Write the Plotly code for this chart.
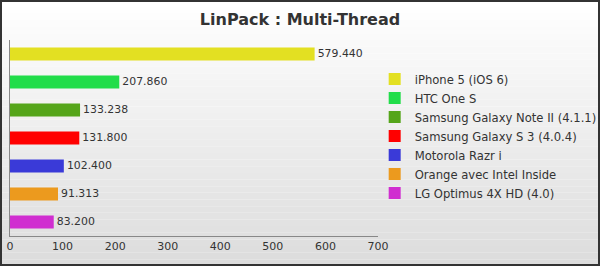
import plotly.graph_objects as go

devices = ["iPhone 5 (iOS 6)", "HTC One S", "Samsung Galaxy Note II (4.1.1)",
           "Samsung Galaxy S 3 (4.0.4)", "Motorola Razr i", "Orange avec Intel Inside",
           "LG Optimus 4X HD (4.0)"]
scores = [579.440, 207.860, 133.238, 131.800, 102.400, 91.313, 83.200]
colors = ["#e3e022", "#22dd4a", "#55a51a", "#ff0000", "#3a3ad8", "#ec9a1e", "#d02ed0"]
x_ticks = [0, 100, 200, 300, 400, 500, 600, 700]

W, H = 600, 266
L, R, T, B = 10, 222, 40, 30
pw, ph = W - L - R, H - T - B

fig = go.Figure()
for d, s, c in zip(devices, scores, colors):
    fig.add_trace(go.Bar(
        x=[s], y=[d], orientation="h", name=d, marker=dict(color=c, line=dict(width=0)),
        width=0.46, text=[f"{s:.3f}"], textposition="outside", cliponaxis=False,
        textfont=dict(color="#333333", size=11), hoverinfo="skip"))

# background gradient
shapes = []
n = 40
for i in range(n):
    y0 = 1 - i / n
    y1 = 1 - (i + 1) / n
    v = int(round(255 - (255 - 220) * (i + 0.5) / n))
    shapes.append(dict(type="rect", xref="paper", yref="paper",
                       x0=-L / pw, x1=(W - L) / pw,
                       y0=(y0 * H - B) / ph, y1=(y1 * H - B) / ph,
                       fillcolor=f"rgb({v},{v},{v})", line=dict(width=0), layer="below"))
shapes.append(dict(type="rect", xref="paper", yref="paper",
                   x0=(-L + 1) / pw, x1=(W - L - 1) / pw,
                   y0=(-B + 1) / ph, y1=(H - B - 1) / ph,
                   line=dict(color="#333333", width=2), fillcolor="rgba(0,0,0,0)"))

fig.update_layout(
    width=W, height=H, margin=dict(l=L, r=R, t=T, b=B, autoexpand=False),
    paper_bgcolor="rgba(0,0,0,0)", plot_bgcolor="rgba(0,0,0,0)",
    barmode="overlay", shapes=shapes,
    font=dict(family="DejaVu Sans", color="#333333"),
    title=dict(text="<b>LinPack : Multi-Thread</b>", x=0.5, xref="container",
               y=1 - 19 / H, yanchor="middle", font=dict(size=16, color="#333333")),
    xaxis=dict(range=[0, 700], tickvals=x_ticks, showgrid=False, zeroline=False,
               showline=True, linecolor="#888888", linewidth=1,
               tickfont=dict(size=11, color="#333333"), ticks=""),
    yaxis=dict(autorange="reversed", showticklabels=False, showgrid=False,
               showline=True, linecolor="#888888", linewidth=1, ticks=""),
    showlegend=True,
    legend=dict(x=0.991, xanchor="left", y=0.875, yanchor="top",
                font=dict(size=11.6, color="#333333"), bgcolor="rgba(0,0,0,0)",
                tracegroupgap=0, itemsizing="constant"),
)
fig.write_html("out.html")
